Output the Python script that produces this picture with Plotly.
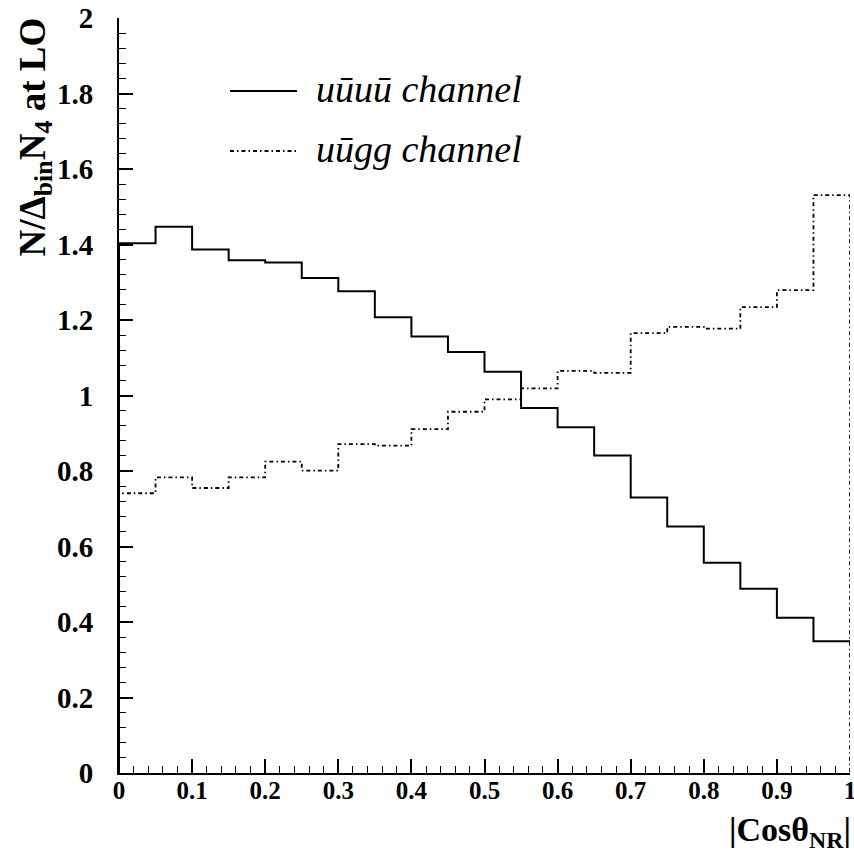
import numpy as np
import plotly.graph_objects as go

# ---- data ----
bin_edges = [round(0.05 * i, 2) for i in range(21)]
uuuu_values = [1.403, 1.447, 1.387, 1.358, 1.352, 1.311, 1.276, 1.207, 1.156, 1.115,
               1.063, 0.967, 0.916, 0.841, 0.730, 0.653, 0.557, 0.488, 0.411, 0.349]
uugg_values = [0.741, 0.783, 0.755, 0.783, 0.825, 0.801, 0.871, 0.867, 0.911, 0.957,
               0.990, 1.019, 1.065, 1.060, 1.165, 1.182, 1.177, 1.234, 1.279, 1.531]
x_tickvals = [0, 0.1, 0.2, 0.3, 0.4, 0.5, 0.6, 0.7, 0.8, 0.9, 1.0]
x_ticktext = ["0", "0.1", "0.2", "0.3", "0.4", "0.5", "0.6", "0.7", "0.8", "0.9", "1"]
y_tickvals = [0, 0.2, 0.4, 0.6, 0.8, 1.0, 1.2, 1.4, 1.6, 1.8, 2.0]
y_ticktext = ["0", "0.2", "0.4", "0.6", "0.8", "1", "1.2", "1.4", "1.6", "1.8", "2"]
legend_labels = ["u\u016Bu\u016B channel", "u\u016Bgg channel"]

FONT = "'Liberation Serif', 'Times New Roman', Times, serif"
DASHDOT = "4px,3px,1.5px,3px"

def step_xy(edges, vals, close_right=False):
    xs = [edges[0]] + list(edges[:-1]) + [edges[-1]]
    ys = [0] + list(vals) + [vals[-1]]
    if close_right:
        xs.append(edges[-1])
        ys.append(0)
    return xs, ys

fig = go.Figure()
x1, y1 = step_xy(bin_edges, uuuu_values)
fig.add_trace(go.Scatter(x=x1, y=y1, mode="lines", line_shape="hv",
                         line=dict(color="black", width=2), name=legend_labels[0],
                         showlegend=False))
x2, y2 = step_xy(bin_edges, uugg_values, close_right=True)
fig.add_trace(go.Scatter(x=x2, y=y2, mode="lines", line_shape="hv",
                         line=dict(color="black", width=1.8, dash=DASHDOT),
                         name=legend_labels[1], showlegend=False))

W, H = 854, 857
L, R, T, B = 119, 4, 18, 84
pw = W - L - R
ph = H - T - B

def px_to_paper(px, py):
    return (px - L) / pw, (H - B - py) / ph

fig.update_layout(
    width=W, height=H,
    margin=dict(l=L, r=R, t=T, b=B, autoexpand=False),
    paper_bgcolor="white", plot_bgcolor="white",
    font=dict(family=FONT, color="black"),
    showlegend=False,
    xaxis=dict(range=[0, 1], showgrid=False, zeroline=False, automargin=False,
               showline=True, linecolor="black", linewidth=2,
               ticks="inside", ticklen=14, tickwidth=1.5, tickcolor="black",
               tickvals=x_tickvals, ticktext=x_ticktext, ticklabeloverflow="allow",
               ticklabelstandoff=-6,
               tickfont=dict(family=FONT, size=25, color="black", weight="bold"),
               minor=dict(dtick=0.02, ticks="inside", ticklen=7, tickwidth=1.2,
                          tickcolor="black", showgrid=False)),
    yaxis=dict(range=[0, 2], showgrid=False, zeroline=False, automargin=False,
               showline=True, linecolor="black", linewidth=2,
               ticks="inside", ticklen=14, tickwidth=1.5, tickcolor="black",
               tickvals=y_tickvals, ticktext=y_ticktext, ticklabelstandoff=18,
               ticklabeloverflow="allow",
               tickfont=dict(family=FONT, size=29, color="black", weight="bold"),
               minor=dict(dtick=0.04, ticks="inside", ticklen=7, tickwidth=1.2,
                          tickcolor="black", showgrid=False)),
)

# axis titles
ax, ay = px_to_paper(35, 16)
fig.add_annotation(xref="paper", yref="paper", x=ax, y=ay, xanchor="center", yanchor="top",
                   text="<b>N/\u0394<sub>bin</sub>N<sub>4</sub> at LO</b>", textangle=-90,
                   showarrow=False, font=dict(family=FONT, size=37, color="black"))
bx, by = px_to_paper(853, 809)
fig.add_annotation(xref="paper", yref="paper", x=bx, y=by, xanchor="right", yanchor="top",
                   text="<b>|Cos\u03B8<sub>NR</sub>|</b>",
                   showarrow=False, font=dict(family=FONT, size=34, color="black"))

# legend (drawn manually)
leg_rows = [(91, "solid", 2), (151, DASHDOT, 1.8)]
for (yy, dash, w), label in zip(leg_rows, legend_labels):
    xa, ya = px_to_paper(230, yy)
    xb, _ = px_to_paper(297, yy)
    fig.add_shape(type="line", xref="paper", yref="paper", x0=xa, x1=xb, y0=ya, y1=ya,
                  line=dict(color="black", width=w, dash=dash))
    tx, ty = px_to_paper(314, yy - 2)
    fig.add_annotation(xref="paper", yref="paper", x=tx, y=ty, xanchor="left", yanchor="middle",
                       text="<i>" + label + "</i>", showarrow=False,
                       font=dict(family=FONT, size=38, color="black"))

fig.write_html("out.html")
